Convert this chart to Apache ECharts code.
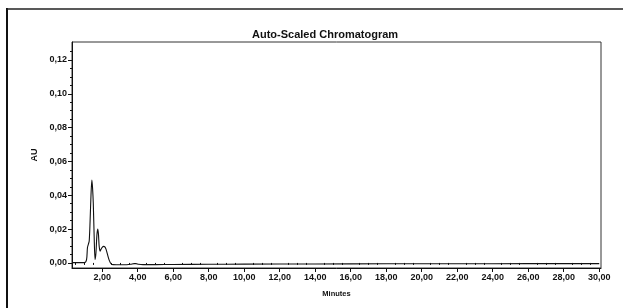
<!DOCTYPE html>
<html>
<head>
<meta charset="utf-8">
<script src="https://cdn.jsdelivr.net/npm/echarts@6/dist/echarts.min.js"></script>
<style>
  html, body { margin: 0; padding: 0; background: #fff; }
  #chart { width: 623px; height: 308px; }
</style>
</head>
<body>
<div id="chart"></div>
<script>
// retention time (min) and absorbance (AU)
var times = [0.3, 1.0, 1.12, 1.17, 1.22, 1.27, 1.32, 1.37, 1.42, 1.46, 1.5, 1.55, 1.6, 1.65, 1.7, 1.75, 1.79, 1.83, 1.88, 1.93,
  2.0, 2.08, 2.15, 2.22, 2.3, 2.4, 2.5, 2.6, 2.8, 3.2, 3.6, 3.8, 3.9, 4.05, 4.3, 5.0, 6.0, 8.0, 10.0, 14.0, 18.0, 22.0, 26.0, 30.0];
var au = [0.0002, 0.0002, 0.002, 0.009, 0.011, 0.013, 0.025, 0.040, 0.049, 0.044, 0.035, 0.015, 0.002, 0.006, 0.016, 0.020, 0.017, 0.010, 0.007, 0.008,
  0.0092, 0.0098, 0.0095, 0.008, 0.005, 0.0015, -0.0005, -0.001, -0.0011, -0.0011, -0.0008, -0.0004, -0.0004, -0.0008, -0.001, -0.001, -0.0009, -0.0008, -0.0007, -0.0006, -0.0005, -0.0005, -0.0004, -0.0004];

var xMajor = [2, 4, 6, 8, 10, 12, 14, 16, 18, 20, 22, 24, 26, 28, 30];
var xMinor = [0.5, 1, 1.5, 2.5, 3, 3.5, 4.5, 5, 5.5, 6.5, 7, 7.5, 8.5, 9, 9.5, 10.5, 11, 11.5, 12.5, 13, 13.5, 14.5, 15, 15.5,
  16.5, 17, 17.5, 18.5, 19, 19.5, 20.5, 21, 21.5, 22.5, 23, 23.5, 24.5, 25, 25.5, 26.5, 27, 27.5, 28.5, 29, 29.5];
var yMajor = [0, 0.02, 0.04, 0.06, 0.08, 0.10, 0.12];
var yMinor = [0.005, 0.01, 0.015, 0.025, 0.03, 0.035, 0.045, 0.05, 0.055, 0.065, 0.07, 0.075,
  0.085, 0.09, 0.095, 0.105, 0.11, 0.115, 0.125];

var points = times.map(function (t, i) { return [t, au[i]]; });

var xMin = 0.3, xMax = 30.1, yMin = -0.003, yMax = 0.1306;
var lbl = { fontFamily: 'Liberation Sans', fontWeight: 'bold', fontSize: 9, color: '#111' };

function comma(v, d) { return v.toFixed(d).replace('.', ','); }

var chart = echarts.init(document.getElementById('chart'));
chart.setOption({
  backgroundColor: '#fff',
  animation: false,
  title: {
    text: 'Auto-Scaled Chromatogram',
    left: 247, top: 24,
    textStyle: { fontFamily: 'Liberation Sans', fontWeight: 'bold', fontSize: 11, color: '#111' }
  },
  graphic: [
    { type: 'line', shape: { x1: 7, y1: 8, x2: 7, y2: 308 }, style: { stroke: '#111', lineWidth: 2 } },
    { type: 'line', shape: { x1: 7, y1: 9, x2: 623, y2: 9 }, style: { stroke: '#222', lineWidth: 1.5 } }
  ],
  grid: {
    left: 72, top: 42, right: 22, bottom: 40,
    show: true, borderColor: '#333', borderWidth: 1, backgroundColor: 'transparent'
  },
  xAxis: [
    {
      type: 'value', min: xMin, max: xMax,
      name: 'Minutes', nameLocation: 'middle', nameGap: 22,
      nameTextStyle: { fontFamily: 'Liberation Sans', fontWeight: 'bold', fontSize: 7.5, color: '#111' },
      axisLine: { show: true, onZero: false, lineStyle: { color: '#111', width: 1 } },
      axisTick: { show: true, length: 4, customValues: xMajor, lineStyle: { color: '#111' } },
      axisLabel: Object.assign({ margin: 5, customValues: xMajor, formatter: function (v) { return comma(v, 2); } }, lbl),
      splitLine: { show: false }
    },
    {
      type: 'value', min: xMin, max: xMax, position: 'bottom',
      axisLine: { show: false },
      axisTick: { show: true, length: 2, customValues: xMinor, lineStyle: { color: '#111' } },
      axisLabel: { show: false, customValues: xMinor },
      splitLine: { show: false }
    }
  ],
  yAxis: [
    {
      type: 'value', min: yMin, max: yMax,
      name: 'AU', nameLocation: 'middle', nameGap: 32,
      nameTextStyle: { fontFamily: 'Liberation Sans', fontWeight: 'bold', fontSize: 9, color: '#111' },
      axisLine: { show: true, onZero: false, lineStyle: { color: '#111', width: 1 } },
      axisTick: { show: true, length: 4, customValues: yMajor, lineStyle: { color: '#111' } },
      axisLabel: Object.assign({ margin: 5, customValues: yMajor, formatter: function (v) { return comma(v, 2); } }, lbl),
      splitLine: { show: false }
    },
    {
      type: 'value', min: yMin, max: yMax, position: 'left',
      axisLine: { show: false },
      axisTick: { show: true, length: 2, customValues: yMinor, lineStyle: { color: '#111' } },
      axisLabel: { show: false, customValues: yMinor },
      splitLine: { show: false }
    }
  ],
  series: [
    {
      type: 'line', xAxisIndex: 0, yAxisIndex: 0,
      data: points, showSymbol: false, smooth: 0.3,
      lineStyle: { color: '#111', width: 1.1 }
    }
  ]
});
</script>
</body>
</html>
